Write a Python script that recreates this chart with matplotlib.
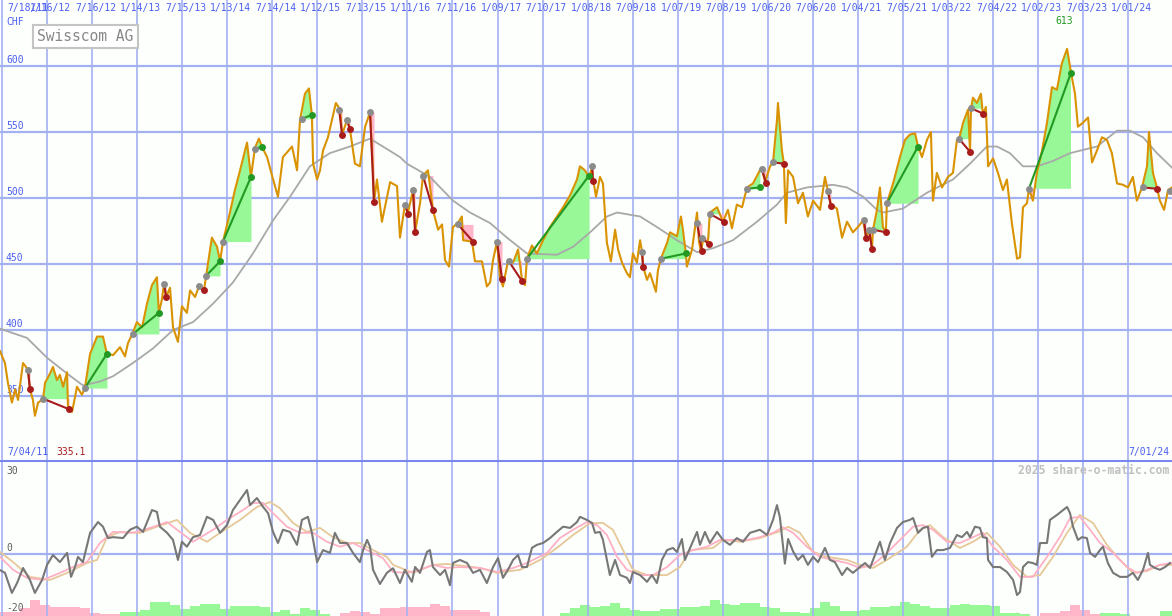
import numpy as np
import matplotlib
matplotlib.use("Agg")
import matplotlib.pyplot as plt
import matplotlib.transforms as mtransforms

plt.rcParams['font.family'] = 'DejaVu Sans Mono'

# x axis: days since 7/04/11
tick_days = [14 + 182 * k for k in range(26)]
tick_labels = ['7/18/11', '1/16/12', '7/16/12', '1/14/13', '7/15/13', '1/13/14', '7/14/14',
               '1/12/15', '7/13/15', '1/11/16', '7/11/16', '1/09/17', '7/10/17', '1/08/18',
               '7/09/18', '1/07/19', '7/08/19', '1/06/20', '7/06/20', '1/04/21', '7/05/21',
               '1/03/22', '7/04/22', '1/02/23', '7/03/23', '1/01/24']

price_day = [6, 26, 38, 54, 67, 79, 99, 119, 127, 139, 147, 160, 176, 180, 188, 208, 220, 236, 248, 261,
             277, 281, 297, 309, 317, 337, 349, 370, 398, 422, 438, 463, 491, 511, 523, 543, 559, 580, 600, 620,
             640, 648, 660, 669, 677, 693, 705, 725, 741, 761, 774, 794, 810, 830, 838, 862, 883, 895, 907, 935,
             955, 976, 1004, 1020, 1036, 1052, 1064, 1085, 1105, 1129, 1149, 1186, 1206, 1218, 1238, 1254, 1266,
             1271, 1287, 1299, 1311, 1331, 1363, 1380, 1388, 1408, 1420, 1440, 1460, 1481, 1501, 1513, 1517,
             1529, 1549, 1561, 1582, 1610, 1622, 1642, 1654, 1675, 1683, 1703, 1715, 1735, 1755, 1776, 1792,
             1804, 1820, 1836, 1856, 1872, 1877, 1913, 1925, 1953, 1973, 1986, 1998, 2014, 2026, 2038, 2058,
             2079, 2099, 2115, 2127, 2135, 2155, 2175, 2200, 2228, 2256, 2281, 2309, 2337, 2349, 2369, 2386,
             2398, 2402, 2414, 2430, 2442, 2458, 2474, 2491, 2503, 2519, 2539, 2551, 2563, 2579, 2592, 2600,
             2604, 2620, 2632, 2656, 2664, 2676, 2701, 2713, 2741, 2757, 2765, 2777, 2781, 2802, 2814, 2822,
             2830, 2838, 2846, 2866, 2874, 2903, 2927, 2947, 2963, 2983, 3004, 3024, 3048, 3076, 3084, 3097,
             3117, 3129, 3145, 3149, 3165, 3173, 3181, 3190, 3210, 3230, 3250, 3270, 3291, 3319, 3339, 3351,
             3363, 3387, 3408, 3428, 3452, 3472, 3493, 3505, 3517, 3529, 3533, 3549, 3561, 3573, 3585, 3589,
             3614, 3642, 3662, 3682, 3703, 3715, 3731, 3751, 3767, 3775, 3791, 3812, 3836, 3856, 3872, 3880,
             3897, 3917, 3925, 3929, 3937, 3953, 3969, 3977, 3989, 3998, 4018, 4038, 4058, 4074, 4094, 4115,
             4127, 4139, 4155, 4163, 4179, 4195, 4216, 4236, 4256, 4276, 4296, 4317, 4333, 4349, 4361, 4381,
             4402, 4418, 4438, 4458, 4478, 4498, 4519, 4543, 4563, 4583, 4599, 4620, 4640, 4648, 4664, 4680,
             4692, 4709, 4725, 4741]
price_val = [384, 375, 360, 345, 355, 347, 375, 370, 355, 347, 335, 345, 347, 348, 360, 367, 372, 362, 366, 357,
             368, 339, 338, 349, 357, 351, 356, 382, 395, 395, 382, 381, 387, 380, 390, 398, 406, 402, 420, 434,
             440, 413, 423, 436, 425, 432, 402, 391, 418, 413, 430, 425, 433, 430, 440, 470, 463, 452, 467, 489,
             506, 521, 542, 516, 538, 545, 539, 531, 517, 501, 531, 539, 521, 559, 579, 583, 563, 526, 514, 521,
             536, 546, 572, 567, 548, 559, 552, 526, 524, 554, 565, 521, 497, 514, 482, 493, 512, 509, 470, 495,
             489, 506, 474, 496, 517, 521, 491, 476, 480, 453, 448, 478, 481, 486, 468, 467, 452, 452, 433, 436,
             453, 467, 440, 433, 452, 451, 461, 438, 434, 454, 464, 458, 468, 478, 486, 493, 502, 514, 524, 521,
             516, 523, 514, 501, 516, 511, 466, 452, 476, 461, 451, 443, 440, 458, 451, 468, 459, 448, 438, 443,
             429, 445, 454, 466, 474, 471, 486, 476, 458, 448, 461, 478, 489, 467, 459, 468, 466, 489, 493, 482,
             491, 477, 495, 493, 508, 511, 521, 523, 512, 524, 527, 559, 572, 536, 526, 481, 521, 516, 496, 504,
             486, 498, 491, 516, 505, 495, 492, 470, 482, 474, 478, 483, 470, 476, 462, 476, 491, 508, 478, 474,
             496, 511, 531, 544, 548, 549, 539, 531, 544, 550, 498, 519, 508, 516, 519, 544, 544, 557, 567, 535,
             568, 576, 572, 579, 563, 569, 524, 530, 519, 506, 514, 481, 454, 455, 493, 496, 507, 498, 519, 536,
             557, 584, 582, 602, 613, 595, 579, 554, 557, 561, 527, 536, 546, 544, 534, 511, 510, 508, 516, 498,
             508, 524, 550, 519, 508, 498, 491, 506, 508]

ma_day = [6, 115, 196, 277, 341, 410, 463, 543, 624, 705, 786, 867, 947, 1028, 1109, 1178, 1258, 1339, 1420,
          1501, 1622, 1650, 1743, 1836, 1905, 1986, 2054, 2135, 2256, 2321, 2390, 2458, 2499, 2592, 2660, 2741,
          2822, 2887, 2967, 3064, 3145, 3185, 3266, 3371, 3428, 3493, 3549, 3573, 3654, 3751, 3856, 3925, 3993,
          4034, 4086, 4139, 4195, 4260, 4329, 4438, 4519, 4571, 4624, 4680, 4741]
ma_val = [401, 394, 379, 367, 358, 361, 365, 375, 386, 400, 406, 420, 436, 458, 483, 501, 524, 534, 539,
          545, 531, 526, 516, 498, 489, 481, 470, 458, 457, 463, 474, 486, 489, 486, 478, 468,
          459, 462, 468, 482, 495, 504, 508, 510, 508, 501, 491, 489, 492, 504, 514, 526, 539,
          539, 534, 524, 524, 528, 534, 539, 551, 551, 546, 534, 523]

# trend segments: start (day, price) -> end (day, price)
seg_d1 = [119, 180, 349, 543, 669, 810, 838, 907, 1036, 1226, 1376, 1408, 1501, 1642, 1675, 1715, 1856, 2014,
          2062, 2135, 2398, 2600, 2676, 2822, 2842, 2874, 3024, 3084, 3129, 3351, 3497, 3517, 3533, 3589, 3880,
          3929, 4163, 4624]
seg_p1 = [370, 348, 356, 397, 435, 433, 441, 467, 537, 560, 567, 559, 565, 495, 506, 517, 480, 467, 452, 454,
          524, 459, 454, 481, 470, 488, 507, 522, 527, 505, 483, 476, 476, 496, 545, 568, 507, 508]
seg_d2 = [127, 285, 438, 648, 677, 830, 895, 1020, 1064, 1266, 1388, 1420, 1517, 1654, 1683, 1755, 1917, 2034,
          2115, 2386, 2402, 2604, 2777, 2842, 2870, 2931, 3076, 3101, 3173, 3363, 3505, 3529, 3585, 3715, 3925,
          3977, 4333, 4680]
seg_p2 = [355, 340, 382, 413, 425, 430, 452, 516, 539, 563, 548, 552, 497, 488, 474, 491, 467, 439, 437, 517,
          513, 448, 458, 460, 465, 482, 508, 511, 526, 494, 470, 461, 474, 539, 535, 564, 595, 507]

osc_day = [6, 26, 54, 75, 99, 127, 147, 176, 196, 220, 248, 277, 293, 309, 321, 341, 370, 402, 422, 442,
           463, 503, 531, 559, 584, 620, 640, 652, 681, 705, 725, 741, 761, 786, 814, 842, 867, 895, 923, 947,
           976, 1004, 1016, 1044, 1069, 1089, 1109, 1129, 1149, 1178, 1206, 1226, 1250, 1266, 1287, 1311, 1339,
           1359, 1380, 1408, 1432, 1460, 1473, 1489, 1501, 1513, 1541, 1569, 1594, 1622, 1642, 1670, 1683, 1703,
           1731, 1743, 1755, 1784, 1804, 1824, 1836, 1864, 1893, 1917, 1945, 1973, 1998, 2018, 2038, 2058, 2079,
           2099, 2115, 2135, 2155, 2175, 2200, 2228, 2256, 2281, 2309, 2337, 2349, 2377, 2398, 2410, 2430, 2442,
           2458, 2470, 2491, 2511, 2539, 2551, 2563, 2592, 2620, 2640, 2660, 2680, 2701, 2725, 2741, 2761, 2773,
           2794, 2822, 2834, 2854, 2874, 2903, 2927, 2955, 2983, 3008, 3036, 3076, 3105, 3129, 3145, 3157, 3177,
           3190, 3210, 3230, 3250, 3270, 3291, 3311, 3339, 3359, 3379, 3408, 3428, 3452, 3480, 3501, 3521, 3541,
           3561, 3581, 3602, 3630, 3654, 3682, 3695, 3715, 3735, 3755, 3771, 3791, 3816, 3844, 3872, 3892, 3913,
           3925, 3945, 3965, 3977, 3993, 3998, 4018, 4046, 4074, 4099, 4115, 4127, 4139, 4159, 4179, 4195, 4208,
           4236, 4248, 4276, 4301, 4317, 4329, 4341, 4361, 4377, 4397, 4410, 4430, 4450, 4462, 4482, 4503, 4531,
           4559, 4583, 4603, 4624, 4644, 4652, 4672, 4692, 4713, 4733]
osc_val = [-5.1, -6, -12.5, -9.3, -4.4, -8.3, -12.5, -8.3, -3.4, -0.2, -2.5, 0.5, -7.3, -4.1, -0.8, -2.5, 7,
           10.5, 9, 5.3, 5.6, 5.3, 8, 9, 7.3, 14.4, 13.8, 9, 7, 4.7, -1.8, 4.1, 2.5, 5.6, 6.3, 12.2, 11.2, 7,
           9.5, 14.4, 17.7, 20.9, 16, 18.3, 15.4, 13.4, 7.3, 3.7, 8, 7.3, 3.1, 11.2, 12.2, 7, -2.5, 1.4, 0.5, 7,
           3.7, 3.7, 0.5, -2.5, 1.4, 4.7, 2.5, -5, -9.6, -6, -4.5, -9.3, -5, -8.9, -4.1, -6, 0.8, 1.4, -4.1,
           -6.7, -5, -10, -2.8, -1.8, -2.8, -6, -5, -9.3, -4.1, -1.2, -7.6, -5, -1.8, -0.2, -4.1, -4.1, 2.1, 3.1,
           3.7, 5.3, 7.3, 9, 8.6, 10.5, 12.2, 11.2, 10.2, 7, 7.3, 4.7, -1.8, -6.7, -1.8, -6.7, -7.6, -9.3, -5.7,
           -6.7, -8.9, -6.7, -9.3, -1.8, 1.4, 2.1, 0.8, 5, -1.8, 2.1, 7.3, 3.1, 7.3, 3.7, 7.3, 4.7, 3.1, 5.3,
           4.1, 7, 8, 6.3, 11.2, 16, 12, -3, 5, 1, -1.8, -0.2, -3.4, -0.8, -2.5, 2.1, -1.8, -2.5, -6.7, -4.4,
           -6, -4.1, -2.8, -4.4, -0.2, 4.1, -1.8, 3.7, 8.6, 10.5, 11.2, 11.8, 7, 8.6, 9, -0.8, 1.4, 1.4, 2.1,
           6.3, 5.6, 7.3, 5.6, 9, 8.6, 5.6, 5.3, -1.8, -4.1, -4.1, -5.7, -8.3, -13.2, -12.2, -4.1, -2.5, -2.8,
           -3.4, 3.7, 3.7, 11.2, 12.8, 14.4, 15.4, 13.4, 9, 4.7, 5.6, 5.3, 0.5, -0.8, 1.4, 2.5, -2.8, -6, -7.3,
           -7.3, -6, -8.3, -5, 0.5, -3.4, -4.4, -5, -4.1, -2.8]

pink_day = [6, 59, 115, 180, 248, 301, 357, 410, 463, 543, 612, 681, 733, 786, 867, 923, 988, 1028, 1069, 1109,
            1165, 1218, 1271, 1327, 1380, 1432, 1489, 1553, 1594, 1650, 1703, 1755, 1812, 1864, 1945, 2014, 2079,
            2135, 2216, 2268, 2321, 2377, 2418, 2458, 2499, 2539, 2592, 2644, 2701, 2753, 2806, 2862, 2915, 2967,
            3024, 3076, 3129, 3169, 3210, 3266, 3319, 3371, 3428, 3480, 3533, 3589, 3642, 3695, 3735, 3775, 3832,
            3884, 3937, 3977, 4018, 4074, 4127, 4179, 4236, 4288, 4329, 4369, 4410, 4450, 4503, 4559, 4599, 4640,
            4692, 4741]
pink_val = [-0.8, -5, -7.6, -8.3, -6, -4.1, -2.5, 3.7, 7.3, 7, 8.6, 10.5, 7.3, 4.1, 8, 11.2, 14.4, 16.7, 16.7,
            13.4, 9, 7, 7, 4.1, 2.5, 3.7, 1.4, -1.2, -5.7, -6, -5, -3.4, -4.4, -4.1, -4.4, -5.7, -4.4, -2.8, 0.5,
            5.3, 8, 10.5, 9.5, 6.3, -0.8, -5, -6.7, -6.7, -4.1, -0.2, 1.4, 2.5, 4.7, 4.7, 4.7, 5.6, 7, 8.8, 7,
            2.5, -0.8, -1.8, -2.8, -4.4, -3.4, 0.5, 4.7, 9, 9.5, 8, 4.1, 3.7, 5.6, 7, 2.5, -1.8, -7.3, -7.3,
            -0.8, 5.6, 11.8, 12.2, 8, 3.7, 0.5, -4.1, -6, -5, -3.4, -2.8]

tan_day = [6, 59, 127, 208, 277, 357, 398, 438, 491, 572, 640, 721, 774, 842, 895, 976, 1044, 1097, 1137, 1190,
           1246, 1299, 1351, 1408, 1460, 1513, 1569, 1594, 1675, 1755, 1812, 1877, 1945, 2014, 2107, 2188, 2256,
           2321, 2390, 2442, 2482, 2523, 2563, 2620, 2701, 2753, 2794, 2887, 2927, 2996, 3076, 3157, 3190, 3238,
           3291, 3347, 3428, 3480, 3533, 3589, 3670, 3723, 3763, 3816, 3884, 3937, 3993, 4046, 4099, 4155, 4208,
           4260, 4317, 4369, 4422, 4478, 4531, 4583, 4640, 4692, 4741]
tan_val = [0.8, -2.5, -7.3, -8.3, -6, -2.8, -1.8, 5.6, 7.3, 7, 9, 11.2, 7, 4.1, 7, 11.2, 15.4, 17, 15, 10.2,
           7.3, 8.6, 5.6, 3.7, 3.7, 1.4, -0.8, -3.4, -6, -3.4, -3.1, -3.7, -4.4, -6, -5, -1.8, 2.1, 6.3, 10.2,
           10.2, 8, 1.4, -5, -6.7, -6.7, -4.1, 1.4, 2.1, 4.7, 4.1, 5.3, 7.5, 9, 7, 0.8, -0.8, -1.8, -3.4, -4.4,
           -1.8, 2.5, 8, 9.5, 5.6, 2.1, 4.1, 7, 2.5, -3.4, -7.3, -6.7, -0.8, 7, 12.8, 10.2, 3.1, -1.8, -6, -5.4,
           -3.4, -3.4]

# histogram strip at the bottom (green > 0, pink < 0), one bar per 40 days
hist_val = [-4, -4, -8, -16, -11, -9, -9, -9, -8, -3,
            -2, -2, 4, 4, 6, 14, 14, 11, 7, 10,
            12, 12, 7, 10, 10, 10, 9, 4, 6, 2,
            8, 6, 2, 0, -3, -5, -4, -2, -8, -8,
            -9, -9, -9, -12, -10, -6, -6, -6, -4, 0,
            0, 0, 0, 0, 0, 0, 3, 8, 11, 9,
            10, 13, 8, 6, 5, 5, 7, 7, 9, 9,
            10, 16, 12, 11, 13, 13, 9, 8, 4, 4,
            3, 8, 14, 10, 5, 5, 6, 9, 9, 10,
            14, 12, 10, 8, 8, 11, 12, 11, 11, 10,
            3, 3, 2, 0, -3, -3, -5, -11, -6, -2,
            3, 3, 2, 0, 0, 0, 5, 5]
hist_day = 6 + 40.4 * (np.arange(len(hist_val)) + 0.5)

BG = '#fdfffd'
GRID = '#a3b1f2'
BLUE = '#4b5ef0'
GREEN_FILL = '#98f898'
PINK_FILL = '#ffb6c8'
GREEN = '#229922'
RED = '#a81c1c'

fig = plt.figure(figsize=(11.72, 6.16), dpi=100, facecolor=BG)
ax = fig.add_axes([0, 0.25, 1, 0.75], facecolor=BG)
ax2 = fig.add_axes([0, 0, 1, 0.25], facecolor=BG)

x0, x1 = 6, 4741
for a in (ax, ax2):
    a.set_xlim(x0, x1)
    for s in a.spines.values():
        s.set_visible(False)
    a.set_xticks([])
    a.set_yticks([])
    for d in tick_days:
        a.axvline(d, color=GRID, lw=1.2, zorder=0)

ax.set_ylim(300, 650)
ax2.set_ylim(-20, 30)
for lvl in [350, 400, 450, 500, 550, 600]:
    ax.axhline(lvl, color=GRID, lw=1.6, zorder=0)
ax.axhline(300.4, color='#7787ee', lw=2.2, zorder=0)
ax2.axhline(0, color=GRID, lw=1.6, zorder=0)

# trend fills
for d1, p1, d2, p2 in zip(seg_d1, seg_p1, seg_d2, seg_p2):
    t = np.linspace(d1, d2, 60)
    p = np.interp(t, price_day, price_val)
    ax.fill_between(t, p, p1, where=p >= p1, interpolate=True, color=GREEN_FILL, lw=0, zorder=1)
    ax.fill_between(t, p, p1, where=p < p1, interpolate=True, color=PINK_FILL, lw=0, zorder=1)

ax.plot(ma_day, ma_val, color='#a8a8a8', lw=1.3, zorder=2)
ax.plot(price_day, price_val, color='#d99200', lw=1.5, zorder=3)

for d1, p1, d2, p2 in zip(seg_d1, seg_p1, seg_d2, seg_p2):
    c = GREEN if p2 >= p1 else RED
    ax.plot([d1, d2], [p1, p2], color=c, lw=1.5, zorder=4)
    ax.plot(d1, p1, 'o', color='#8c8c8c', ms=5, mec='none', zorder=5)
    ax.plot(d2, p2, 'o', color=c, ms=5, mec='none', zorder=5)
ax.plot(4733, 505, 'o', color='#8c8c8c', ms=5, mec='none', zorder=5)

# texts on the price panel
tr = mtransforms.blended_transform_factory(ax.transAxes, ax.transData)
fs = 7
for d, lab in zip(tick_days, tick_labels):
    if d == tick_days[0]:
        ax.text(7 / 1172, 1 - 8 / 462, lab, transform=ax.transAxes, ha='left', va='center',
                fontsize=fs, color=BLUE)
    else:
        ax.text(d + 14, 1 - 8 / 462, lab, transform=ax.get_xaxis_transform(), ha='center',
                va='center', fontsize=fs, color=BLUE)
ax.text(6 / 1172, 633.3, 'CHF', transform=tr, ha='left', va='center', fontsize=fs, color=BLUE)
for lvl in [350, 400, 450, 500, 550, 600]:
    ax.text(6 / 1172, lvl + 4.5, str(lvl), transform=tr, ha='left', va='center', fontsize=fs, color=BLUE,
            zorder=2)
ax.text(85.5 / 1172, 622.3, 'Swisscom AG', transform=tr, ha='center', va='center', fontsize=10.5,
        color='#888888', zorder=6,
        bbox=dict(boxstyle='square,pad=0.3', fc='white', ec='#c4c4c4', lw=1.5))
ax.text(7 / 1172, 307.6, '7/04/11', transform=tr, ha='left', va='center', fontsize=fs, color=BLUE)
ax.text(56 / 1172, 307.6, '335.1', transform=tr, ha='left', va='center', fontsize=fs, color=RED)
ax.text(1169 / 1172, 307.6, '7/01/24', transform=tr, ha='right', va='center', fontsize=fs, color=BLUE)
ax.text(4305, 634, '613', ha='center', va='center', fontsize=fs, color=GREEN)

# oscillator panel
hist_arr = np.array(hist_val, dtype=float)
ax3 = ax2.twinx()
ax3.set_ylim(0, 154)
ax3.set_axis_off()
ax3.bar(hist_day, np.abs(hist_arr), width=40.4, bottom=0,
        color=[GREEN_FILL if v > 0 else PINK_FILL for v in hist_arr], lw=0, zorder=1)
ax2.set_zorder(ax3.get_zorder() + 1)
ax2.patch.set_visible(False)
ax3.patch.set_visible(False)
fig.patch.set_facecolor(BG)

ax2.plot(tan_day, tan_val, color='#e6c898', lw=1.3, zorder=2)
ax2.plot(pink_day, pink_val, color='#ffb0c4', lw=1.3, zorder=3)
ax2.plot(osc_day, osc_val, color='#777777', lw=1.5, zorder=4)

tr2 = mtransforms.blended_transform_factory(ax2.transAxes, ax2.transData)
for val, lab in [(27.1, '30'), (2.1, '0'), (-17.4, '-20')]:
    ax2.text(6 / 1172, val, lab, transform=tr2, ha='left', va='center', fontsize=fs, color='#606060')
ax2.text(1169 / 1172, 27.1, '2025 share-o-matic.com', transform=tr2, ha='right', va='center',
         fontsize=8.3, color='#c0c0c0', fontweight='bold')

fig.savefig('out.png', dpi=100, facecolor=BG)
